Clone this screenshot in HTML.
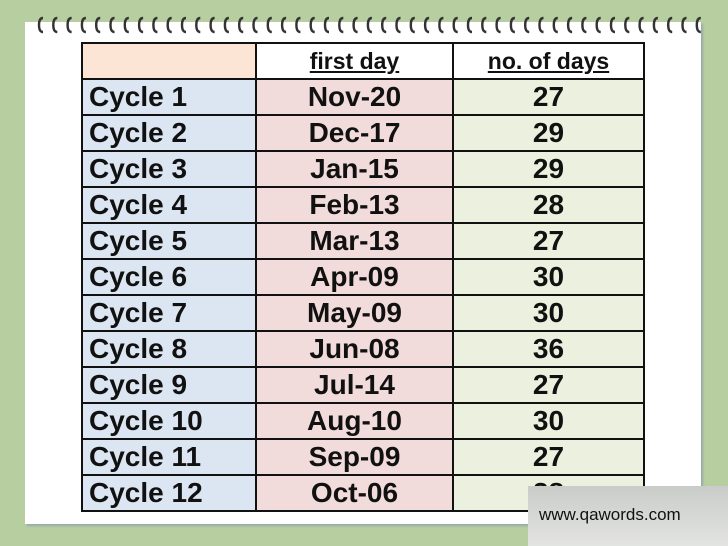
<!DOCTYPE html>
<html><head><meta charset="utf-8"><style>
body{margin:0;width:728px;height:546px;background:#b6cea0;position:relative;overflow:hidden;font-family:"Liberation Sans",sans-serif}
#paper{position:absolute;left:25px;top:22px;width:676px;height:502px;background:#fff;box-shadow:2px 2px 2px #9aa;}
#rings{position:absolute;left:0;top:16px;width:728px;height:20px}
table{position:absolute;left:81px;top:42px;border-collapse:collapse;width:564px;table-layout:fixed}
td{border:2px solid #111;height:34px;padding:0;font-weight:bold;font-size:28px;line-height:34px;color:#111;overflow:hidden;white-space:nowrap}
td.c1{background:#dce6f2;width:166px;padding-left:6px;text-align:left}
td.c2{background:#f2dcdb;width:195px;text-align:center}
td.c3{background:#ebf1de;text-align:center}
tr.h td{font-size:23px;text-decoration:underline;text-align:center;background:#fff}
tr.h td.c1{background:#fde5d5}
#wm{position:absolute;left:528px;top:486px;width:200px;height:60px;background:linear-gradient(#c9ccc8,#e3e4e2);font-size:17px;color:#111}
#wm span{position:absolute;left:11px;top:19px}
</style></head><body>
<div id="paper"></div>
<svg id="rings"></svg>
<table>
<tr class="h"><td class="c1"></td><td class="c2">first day</td><td class="c3">no. of days</td></tr>
</table>
<div id="wm"><span>www.qawords.com</span></div>
<script>
const cycles=["Cycle 1","Cycle 2","Cycle 3","Cycle 4","Cycle 5","Cycle 6","Cycle 7","Cycle 8","Cycle 9","Cycle 10","Cycle 11","Cycle 12"];
const firstDays=["Nov-20","Dec-17","Jan-15","Feb-13","Mar-13","Apr-09","May-09","Jun-08","Jul-14","Aug-10","Sep-09","Oct-06"];
const numDays=["27","29","29","28","27","30","30","36","27","30","27","28"];
const t=document.querySelector('table');
cycles.forEach((c,i)=>{
 const tr=document.createElement('tr');
 
 
 [[c,'c1','cycle-label'],[firstDays[i],'c2','first-day'],[numDays[i],'c3','num-days']].forEach(v=>{
  const td=document.createElement('td');td.className=v[1];td.textContent=v[0];
  
  
  tr.appendChild(td);});
 t.appendChild(tr);
});
const s=document.getElementById('rings');let h='';
for(let x=39;x<700;x+=14.3){h+=`<path d="M${x+4} 2 Q${x} 2 ${x} 9 Q${x} 16 ${x+4} 16" fill="none" stroke="#333" stroke-width="2.4"/>`;}
s.innerHTML=h;
</script>
</body></html>
